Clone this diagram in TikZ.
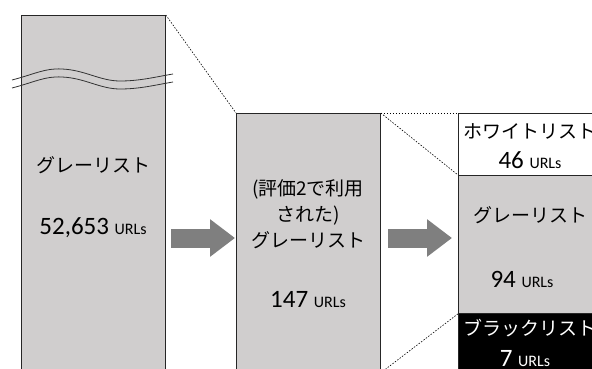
\documentclass[tikz,border=0pt]{standalone}
\usepackage{fontspec}
\setmainfont{Carlito}
\newfontfamily\jp{Noto Sans CJK JP}
\usetikzlibrary{arrows.meta}
\definecolor{boxgray}{HTML}{D0CECE}
\definecolor{arrowgray}{HTML}{7F7F7F}
\begin{document}
\begin{tikzpicture}[x=1pt,y=-1pt]

\useasboundingbox (0,0) rectangle (592,369);
\clip (0,0) rectangle (592,369);

% width of each column
\def\bw{144pt}
% text sizes
\def\jtxt{\jp\fontsize{19}{26}\selectfont}
\def\ntxt{\fontsize{25}{28}\selectfont}
\def\utxt{\fontsize{16}{18}\selectfont}
% style definitions
\tikzstyle{block} = [
	draw=black!85, fill=boxgray, rectangle, anchor=north west,
	minimum width=\bw, inner sep=0pt, line width=0.8pt ];
\tikzstyle{plain} = [draw=none, fill=none, align=center, inner sep=0pt];
\tikzstyle{zoom} = [dash pattern=on 1.5pt off 1.5pt, line width=0.6pt];
\tikzstyle{bigarrow} = [arrowgray, line width=19pt,
	-{Triangle[length=25pt,width=36pt]}];
\tikzstyle{wave} = [line width=0.8pt, black!80];

\node[block, minimum height=357pt] (gl0) at (21,15) {};
\node[block, minimum height=259pt] (gl1) at (236,113) {};
\node[block, fill=white, minimum height=62pt] (wl) at (458,113) {};
\node[block, minimum height=138pt] (gl2) at (458,175) {};
\node[block, fill=black, minimum height=59pt] (bl) at (458,313) {};

% cut marks
\draw[wave] (12,80) .. controls (35,74) and (45,68) .. (62,69)
	.. controls (85,70) and (100,81) .. (120,81)
	.. controls (140,81) and (155,77) .. (173,74);
\draw[wave] (12,88) .. controls (35,82) and (45,76) .. (62,77)
	.. controls (85,78) and (100,89) .. (120,89)
	.. controls (140,89) and (155,85) .. (173,82);

\node[plain, font=\jtxt] (t0) at (93,165) {グレーリスト};
\node[plain] (n0) at (93,228) {\ntxt 52,653 \utxt URLs};

\node[plain, font=\jtxt] (t1) at (308,214) {(評価2で利用\\された)\\グレーリスト};
\node[plain] (n1) at (308,300) {\ntxt 147 \utxt URLs};

\node[plain, font=\jtxt] (t2) at (530,131) {ホワイトリスト};
\node[plain] (n2) at (530,160) {\ntxt 46 \utxt URLs};
\node[plain, font=\jtxt] (t3) at (530,215) {グレーリスト};
\node[plain] (n3) at (522,279) {\ntxt 94 \utxt URLs};
\node[plain, font=\jtxt, text=white] (t4) at (530,328) {ブラックリスト};
\node[plain, text=white] (n4) at (525,359) {\ntxt 7 \utxt URLs};

\coordinate (a1s) at (171,238);
\coordinate (a1e) at (235,238);
\coordinate (a2s) at (388,238);
\coordinate (a2e) at (452,238);
\draw[bigarrow] (a1s) -- (a1e);
\draw[bigarrow] (a2s) -- (a2e);

\draw[zoom] (gl0.north east) -- (gl1.north west);
\draw[zoom] (gl1.north east) -- (wl.north west);
\draw[zoom] (gl1.north east) -- (gl2.north west);
\draw[zoom] (gl2.south west) -- (gl1.south east);

\end{tikzpicture}
\end{document}
